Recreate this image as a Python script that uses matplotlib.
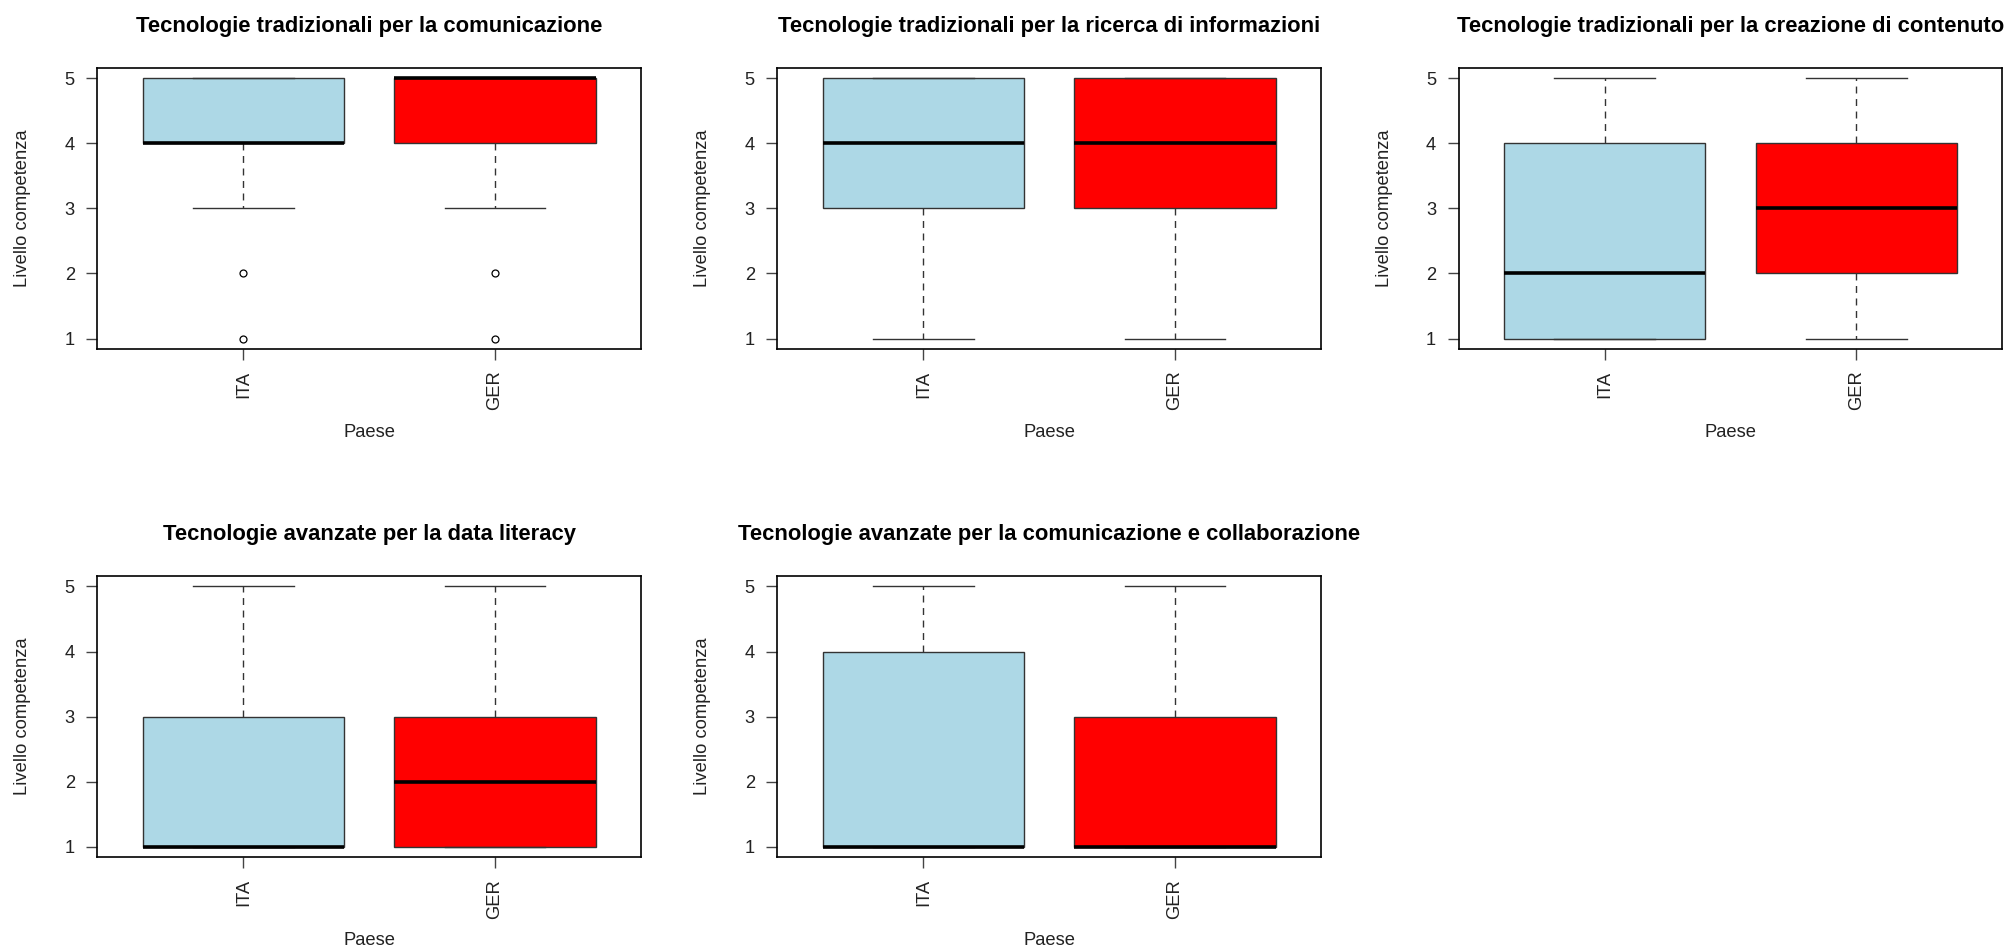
import matplotlib
matplotlib.use("Agg")
import matplotlib.pyplot as plt

plt.rcParams['font.family'] = ['Liberation Sans', 'DejaVu Sans']

countries = ["ITA", "GER"]
colors = ["#ADD8E6", "#FF0000"]

titles = [
    "Tecnologie tradizionali per la comunicazione",
    "Tecnologie tradizionali per la ricerca di informazioni",
    "Tecnologie tradizionali per la creazione di contenuto",
    "Tecnologie avanzate per la data literacy",
    "Tecnologie avanzate per la comunicazione e collaborazione",
]

# five-number summaries per panel: [ITA, GER], each (whislo, q1, med, q3, whishi)
comunicazione = [(3, 4, 4, 5, 5), (3, 4, 5, 5, 5)]
ricerca = [(1, 3, 4, 5, 5), (1, 3, 4, 5, 5)]
creazione = [(1, 1, 2, 4, 5), (1, 2, 3, 4, 5)]
data_literacy = [(1, 1, 1, 3, 5), (1, 1, 2, 3, 5)]
collaborazione = [(1, 1, 1, 4, 5), (1, 1, 1, 3, 5)]

# outliers per panel: [ITA, GER]
outliers_comunicazione = [[1, 2], [1, 2]]
outliers_none = [[], []]

panels = [
    (comunicazione, outliers_comunicazione),
    (ricerca, outliers_none),
    (creazione, outliers_none),
    (data_literacy, outliers_none),
    (collaborazione, outliers_none),
]

yticks = [1, 2, 3, 4, 5]

W, H = 2013, 947
fig = plt.figure(figsize=(W / 100, H / 100), dpi=100)

lefts = [97.3, 777.3, 1458.6]
aw = 543.7
tops = [67.7, 576.0]
ah = 281.3

positions_px = [(lefts[0], tops[0]), (lefts[1], tops[0]), (lefts[2], tops[0]),
                (lefts[0], tops[1]), (lefts[1], tops[1])]

edge = "#333333"
fs = 13.2
for i, ((summ, outl), (lx, ty)) in enumerate(zip(panels, positions_px)):
    ax = fig.add_axes([lx / W, 1 - (ty + ah) / H, aw / W, ah / H])
    stats = []
    for (lo, q1, med, q3, hi), fl, lab in zip(summ, outl, countries):
        stats.append(dict(whislo=lo, q1=q1, med=med, q3=q3, whishi=hi,
                          fliers=fl, label=lab))
    bp = ax.bxp(stats, positions=[1, 2], widths=0.8, capwidths=0.4,
                patch_artist=True, showfliers=True,
                boxprops=dict(edgecolor=edge, linewidth=1.0),
                whiskerprops=dict(color=edge, linewidth=1.0, linestyle=(0, (5, 4))),
                capprops=dict(color=edge, linewidth=1.0),
                medianprops=dict(color="black", linewidth=2.6, solid_capstyle="butt"),
                flierprops=dict(marker="o", markerfacecolor="none",
                                markeredgecolor="black", markersize=5,
                                markeredgewidth=0.9, linestyle="none"))
    for patch, c in zip(bp["boxes"], colors):
        patch.set_facecolor(c)
    ax.set_xlim(0.42, 2.58)
    ax.set_ylim(0.84, 5.16)
    ax.set_yticks(yticks)
    ax.set_yticklabels([str(v) for v in yticks])
    ax.set_xticks([1, 2])
    ax.set_xticklabels(countries, rotation=90)
    ax.tick_params(axis="both", direction="out", length=7.8, width=1.0,
                   color="#444444", labelsize=fs, labelcolor="#222222")
    ax.tick_params(axis="y", pad=8.4)
    ax.tick_params(axis="x", pad=7.7)
    for s in ax.spines.values():
        s.set_linewidth(1.2)
        s.set_color("black")
    ax.set_title(titles[i], fontsize=15.8, fontweight="bold", pad=26)
    ax.set_xlabel("Paese", fontsize=fs, color="#222222", labelpad=10)
    ax.set_ylabel("Livello competenza", fontsize=fs, color="#222222", labelpad=24)

fig.savefig("out.png", dpi=100, facecolor="white")
